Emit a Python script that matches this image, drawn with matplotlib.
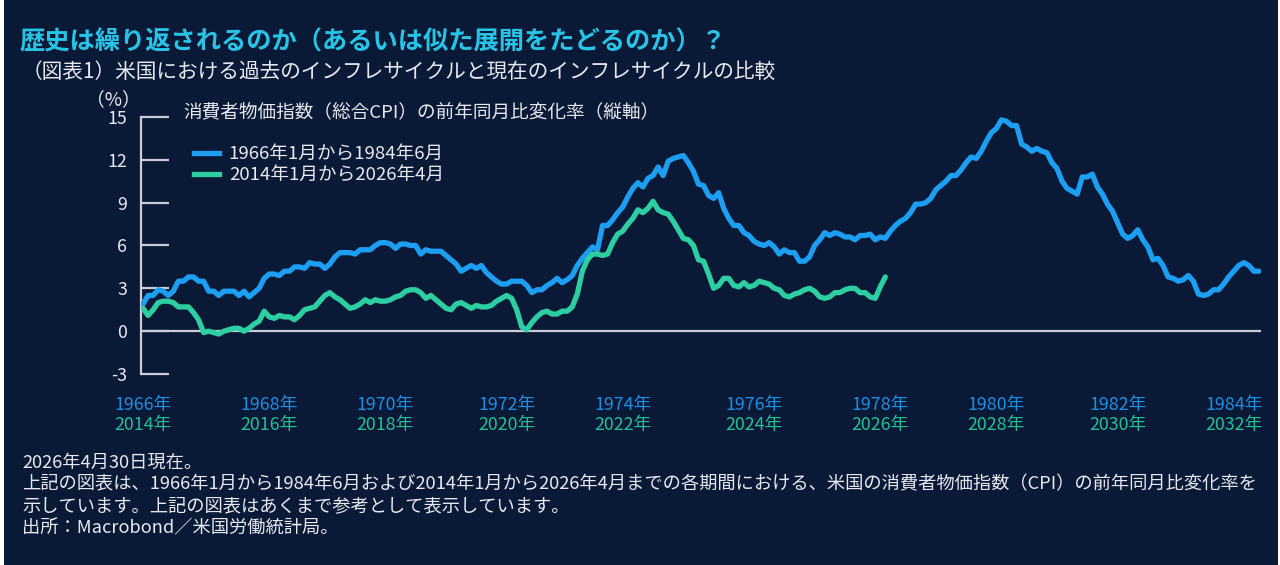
import numpy as np
import matplotlib.pyplot as plt
from matplotlib.patches import Rectangle
from matplotlib.lines import Line2D

plt.rcParams['font.family'] = ['Noto Sans CJK JP', 'DejaVu Sans']

# US CPI, year-over-year change (%), monthly
cpi_1966_1984 = [
    1.9, 2.5, 2.5, 2.9, 2.8, 2.5, 2.8, 3.5, 3.5, 3.8, 3.8, 3.5,   # 1966
    3.5, 2.8, 2.8, 2.5, 2.8, 2.8, 2.8, 2.5, 2.8, 2.4, 2.7, 3.0,   # 1967
    3.7, 4.0, 4.0, 3.9, 4.2, 4.2, 4.5, 4.5, 4.4, 4.8, 4.7, 4.7,   # 1968
    4.4, 4.7, 5.2, 5.5, 5.5, 5.5, 5.4, 5.7, 5.7, 5.7, 6.0, 6.2,   # 1969
    6.2, 6.1, 5.8, 6.1, 6.1, 6.0, 6.0, 5.4, 5.7, 5.6, 5.6, 5.6,   # 1970
    5.3, 5.0, 4.7, 4.2, 4.4, 4.6, 4.4, 4.6, 4.1, 3.8, 3.5, 3.3,   # 1971
    3.3, 3.5, 3.5, 3.5, 3.2, 2.7, 2.9, 2.9, 3.2, 3.4, 3.7, 3.4,   # 1972
    3.6, 3.9, 4.6, 5.1, 5.5, 5.9, 5.7, 7.4, 7.4, 7.8, 8.3, 8.7,   # 1973
    9.4, 10.0, 10.4, 10.1, 10.7, 10.9, 11.5, 10.9, 11.9, 12.1, 12.2, 12.3,  # 1974
    11.8, 11.2, 10.3, 10.2, 9.5, 9.3, 9.7, 8.6, 7.9, 7.4, 7.4, 6.9,  # 1975
    6.7, 6.3, 6.1, 6.0, 6.2, 5.9, 5.4, 5.7, 5.5, 5.5, 4.9, 4.9,   # 1976
    5.2, 6.0, 6.4, 6.9, 6.7, 6.9, 6.8, 6.6, 6.6, 6.4, 6.7, 6.7,   # 1977
    6.8, 6.4, 6.6, 6.5, 7.0, 7.4, 7.7, 7.9, 8.3, 8.9, 8.9, 9.0,   # 1978
    9.3, 9.9, 10.2, 10.5, 10.9, 10.9, 11.3, 11.8, 12.2, 12.1, 12.6, 13.3,  # 1979
    13.9, 14.2, 14.8, 14.7, 14.4, 14.4, 13.1, 12.9, 12.6, 12.8, 12.6, 12.5,  # 1980
    11.8, 11.4, 10.5, 10.0, 9.8, 9.6, 10.8, 10.8, 11.0, 10.1, 9.6, 8.9,  # 1981
    8.4, 7.6, 6.8, 6.5, 6.7, 7.1, 6.4, 5.9, 5.0, 5.1, 4.6, 3.8,   # 1982
    3.7, 3.5, 3.6, 3.9, 3.5, 2.6, 2.5, 2.6, 2.9, 2.9, 3.3, 3.8,   # 1983
    4.2, 4.6, 4.8, 4.6, 4.2, 4.2,                                 # 1984
]
cpi_2014_2026 = [
    1.6, 1.1, 1.5, 2.0, 2.1, 2.1, 2.0, 1.7, 1.7, 1.7, 1.3, 0.8,   # 2014
    -0.1, 0.0, -0.1, -0.2, 0.0, 0.1, 0.2, 0.2, 0.0, 0.2, 0.5, 0.7,  # 2015
    1.4, 1.0, 0.9, 1.1, 1.0, 1.0, 0.8, 1.1, 1.5, 1.6, 1.7, 2.1,   # 2016
    2.5, 2.7, 2.4, 2.2, 1.9, 1.6, 1.7, 1.9, 2.2, 2.0, 2.2, 2.1,   # 2017
    2.1, 2.2, 2.4, 2.5, 2.8, 2.9, 2.9, 2.7, 2.3, 2.5, 2.2, 1.9,   # 2018
    1.6, 1.5, 1.9, 2.0, 1.8, 1.6, 1.8, 1.7, 1.7, 1.8, 2.1, 2.3,   # 2019
    2.5, 2.3, 1.5, 0.3, 0.1, 0.6, 1.0, 1.3, 1.4, 1.2, 1.2, 1.4,   # 2020
    1.4, 1.7, 2.6, 4.2, 5.0, 5.4, 5.4, 5.3, 5.4, 6.2, 6.8, 7.0,   # 2021
    7.5, 7.9, 8.5, 8.3, 8.6, 9.1, 8.5, 8.3, 8.2, 7.7, 7.1, 6.5,   # 2022
    6.4, 6.0, 5.0, 4.9, 4.0, 3.0, 3.2, 3.7, 3.7, 3.2, 3.1, 3.4,   # 2023
    3.1, 3.2, 3.5, 3.4, 3.3, 3.0, 2.9, 2.5, 2.4, 2.6, 2.7, 2.9,   # 2024
    3.0, 2.8, 2.4, 2.3, 2.4, 2.7, 2.7, 2.9, 3.0, 3.0, 2.7, 2.7,   # 2025
    2.4, 2.3, 3.1, 3.8,                                           # 2026
]

old_years = ['1966年', '1968年', '1970年', '1972年', '1974年',
             '1976年', '1978年', '1980年', '1982年', '1984年']
new_years = ['2014年', '2016年', '2018年', '2020年', '2022年',
             '2024年', '2026年', '2028年', '2030年', '2032年']
label_months = [0, 25, 48, 72, 95, 121, 146, 169, 193, 216]
yticks = [-3, 0, 3, 6, 9, 12, 15]

bg = '#0a1935'
fg = '#e6eaf0'
grey = '#c9ced8'
blue = '#1c9ef2'
green = '#2dcfa2'
blue_lbl = '#1e8fe4'
green_lbl = '#22bf98'

fig = plt.figure(figsize=(12.8, 5.65), dpi=100)
fig.patch.set_facecolor('white')
fig.add_artist(Rectangle((4 / 1280, 0), 1274 / 1280, 1, transform=fig.transFigure,
                         facecolor=bg, edgecolor='none', zorder=-10))

ax = fig.add_axes([141 / 1280, 1 - 374 / 565, 1120 / 1280, 257 / 565])
ax.set_facecolor('none')

ax.axhline(0, color=grey, lw=1.6, zorder=1)
ax.plot(np.arange(len(cpi_1966_1984)), cpi_1966_1984, color=blue, lw=3.8,
        solid_joinstyle='round', solid_capstyle='round', zorder=3)
ax.plot(np.arange(len(cpi_2014_2026)), cpi_2014_2026, color=green, lw=3.8,
        solid_joinstyle='round', solid_capstyle='round', zorder=4)

ax.set_xlim(-0.4, 221.4)
ax.set_ylim(-3, 15)
ax.set_yticks(yticks)
ax.set_yticklabels([str(v) for v in yticks])
ax.set_xticks([])
for s in ['top', 'right', 'bottom']:
    ax.spines[s].set_visible(False)
ax.spines['left'].set_color(grey)
ax.spines['left'].set_linewidth(1.6)
ax.tick_params(axis='y', direction='in', length=20, width=1.6, color=grey,
               labelcolor=fg, labelsize=12.8, pad=10)

# two-row year labels under the axis
for m, a, b in zip(label_months, old_years, new_years):
    ax.text(m, -0.12, a, transform=ax.get_xaxis_transform(), ha='center',
            va='center', color=blue_lbl, fontsize=12.8)
    ax.text(m, -0.20, b, transform=ax.get_xaxis_transform(), ha='center',
            va='center', color=green_lbl, fontsize=12.8)

# legend
fig.text(183 / 1280, 1 - 112 / 565, '消費者物価指数（総合CPI）の前年同月比変化率（縦軸）',
         color=fg, fontsize=13.4, va='center', ha='left')
handles = [Line2D([], [], color=blue, lw=3.8), Line2D([], [], color=green, lw=3.8)]
fig.legend(handles, ['1966年1月から1984年6月', '2014年1月から2026年4月'],
           loc='upper left', bbox_to_anchor=(185 / 1280, 1 - 136 / 565),
           frameon=False, fontsize=13.4, labelcolor=fg, handlelength=1.3,
           handletextpad=0.55, labelspacing=0.15, borderpad=0)

fig.text(113 / 1280, 1 - 100 / 565, '（%）', color=fg, fontsize=13.5,
         ha='center', va='center')

# titles
fig.text(20 / 1280, 1 - 42 / 565, '歴史は繰り返されるのか（あるいは似た展開をたどるのか）？',
         color='#27c4e8', fontsize=18.2, fontweight='bold', ha='left', va='center')
fig.text(22 / 1280, 1 - 72 / 565,
         '（図表1）米国における過去のインフレサイクルと現在のインフレサイクルの比較',
         color=fg, fontsize=14.9, ha='left', va='center')

# footnotes
notes = [
    '2026年4月30日現在。',
    '上記の図表は、1966年1月から1984年6月および2014年1月から2026年4月までの各期間における、米国の消費者物価指数（CPI）の前年同月比変化率を',
    '示しています。上記の図表はあくまで参考として表示しています。',
    '出所：Macrobond／米国労働統計局。',
]
for i, t in enumerate(notes):
    fig.text(22 / 1280, 1 - (463 + 21.7 * i) / 565, t, color=fg, fontsize=13.15,
             ha='left', va='center')

fig.savefig('out.png', dpi=100, facecolor=fig.get_facecolor())
